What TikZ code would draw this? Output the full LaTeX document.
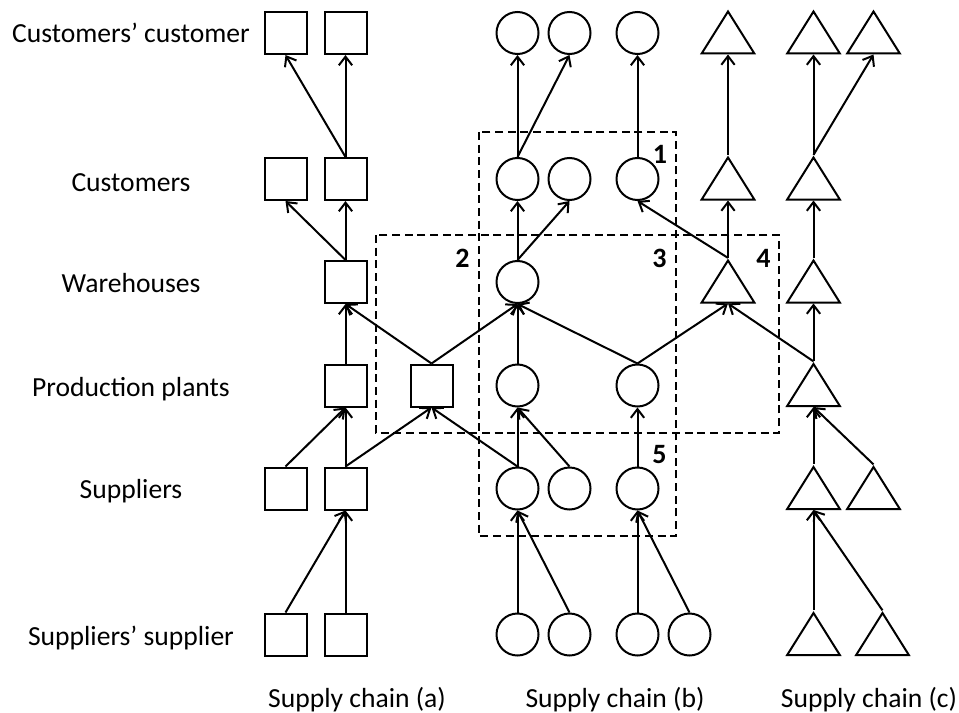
\documentclass[tikz,border=0pt]{standalone}
\usepackage{fontspec}
\setmainfont{Carlito}
\usetikzlibrary{arrows.meta,shapes.geometric}

\tikzset{
  box/.style={draw,line width=1.5pt,minimum size=31.5pt,inner sep=0pt},
  ring/.style={draw,circle,line width=1.5pt,minimum size=31.5pt,inner sep=0pt},
  tri/.style={draw,isosceles triangle,isosceles triangle stretches,
    shape border rotate=90,line width=1.5pt,minimum width=39.5pt,
    minimum height=31.5pt,inner sep=0pt,anchor=lower side},
  flow/.style={line width=1.5pt,-{Straight Barb[length=6.5pt,width=10pt]}},
  zone/.style={line width=1.5pt,dash pattern=on 6pt off 3.5pt},
  rowlab/.style={anchor=base,font=\fontsize{20.7}{24}\selectfont},
  zonelab/.style={anchor=base,font=\fontsize{21}{24}\selectfont\bfseries},
}

\begin{document}
\begin{tikzpicture}[x=0.75pt,y=-0.75pt]
  \useasboundingbox (0,0) rectangle (959,713);

  %%%%%%%%%%%%%%%%%%%%%%%%%%%%%%%%%%%%%%%%%%%%%%%%%%%%%%%%%%%%%%%%%%%%%%%%%%%
  %%%%  Tiers
  \node[rowlab] (lab-cc) at (131,43) {Customers’ customer};
  \node[rowlab] (lab-cu) at (131,191.5) {Customers};
  \node[rowlab] (lab-wh) at (131,292.5) {Warehouses};
  \node[rowlab] (lab-pp) at (131,396.5) {Production plants};
  \node[rowlab] (lab-su) at (131,498) {Suppliers};
  \node[rowlab] (lab-ss) at (131,645) {Suppliers’ supplier};

  \node[rowlab] (cap-a) at (357,707) {Supply chain (a)};
  \node[rowlab] (cap-b) at (615,707) {Supply chain (b)};
  \node[rowlab] (cap-c) at (869,707) {Supply chain (c)};

  %%%%%%%%%%%%%%%%%%%%%%%%%%%%%%%%%%%%%%%%%%%%%%%%%%%%%%%%%%%%%%%%%%%%%%%%%%%
  %%%%  Squares
  \foreach \n/\x/\y in {cc-a1/285.5/33,cc-a2/345.5/33,cu-a1/285.5/179,
    cu-a2/345.5/179,wh-a/345.5/282,pp-a1/345.5/385.5,pp-a2/431.5/385.5,
    su-a1/285.5/488.5,su-a2/345.5/488.5,ss-a1/285.5/634.5,ss-a2/345.5/634.5}
   {\node[box] (\n) at (\x,\y) {};}

  %%%%%%%%%%%%%%%%%%%%%%%%%%%%%%%%%%%%%%%%%%%%%%%%%%%%%%%%%%%%%%%%%%%%%%%%%%%
  %%%%  Circles
  \foreach \n/\x/\y in {cc-b1/517.5/33,cc-b2/569.5/33,cc-b3/637.5/33,
    cu-b1/517.5/179,cu-b2/569.5/179,cu-b3/637.5/179,wh-b/517.5/282,
    pp-b1/517.5/385.5,pp-b2/637.5/385.5,
    su-b1/517.5/488.5,su-b2/569.5/488.5,su-b3/637.5/488.5,
    ss-b1/517.5/634.5,ss-b2/569.5/634.5,ss-b3/637.5/634.5,ss-b4/689.5/634.5}
   {\node[ring] (\n) at (\x,\y) {};}

  %%%%%%%%%%%%%%%%%%%%%%%%%%%%%%%%%%%%%%%%%%%%%%%%%%%%%%%%%%%%%%%%%%%%%%%%%%%
  %%%%  Triangles (base line given)
  \foreach \n/\x/\y in {cc-c0/728/54.5,cu-c0/728/200.5,wh-c0/728/303.5,
    cc-c1/813.5/54.5,cc-c2/873.5/54.5,cu-c/813.5/200.5,wh-c/813.5/303.5,
    pp-c/813.5/407,su-c1/813.5/510,su-c2/873.5/510,
    ss-c1/813.5/656,ss-c2/882.5/656}
   {\node[tri] (\n) at (\x,\y) {};}

  %%%%%%%%%%%%%%%%%%%%%%%%%%%%%%%%%%%%%%%%%%%%%%%%%%%%%%%%%%%%%%%%%%%%%%%%%%%
  %%%%  Flows
  \foreach \s/\t in {ss-a1.north/su-a2.south,ss-a2.north/su-a2.south,
    su-a1.north/pp-a1.south,su-a2.north/pp-a1.south,su-a2.north/pp-a2.south,
    pp-a1.north/wh-a.south,pp-a2.north/wh-a.south,pp-a2.north/wh-b.south,
    wh-a.north/cu-a1.south,wh-a.north/cu-a2.south,
    cu-a2.north/cc-a1.south,cu-a2.north/cc-a2.south}
   {\draw[flow] (\s) -- (\t);}

  \foreach \s/\t in {ss-b1.north/su-b1.south,ss-b2.north/su-b1.south,
    ss-b3.north/su-b3.south,ss-b4.north/su-b3.south,
    su-b1.north/pp-a2.south,su-b1.north/pp-b1.south,su-b2.north/pp-b1.south,
    su-b3.north/pp-b2.south,pp-b1.north/wh-b.south,pp-b2.north/wh-b.south,
    pp-b2.north/wh-c0.lower side,wh-b.north/cu-b1.south,wh-b.north/cu-b2.south,
    cu-b1.north/cc-b1.south,cu-b1.north/cc-b2.south,cu-b3.north/cc-b3.south}
   {\draw[flow] (\s) -- (\t);}

  \foreach \s/\t in {wh-c0.apex/cu-b3.south,wh-c0.apex/cu-c0.lower side,
    cu-c0.apex/cc-c0.lower side,pp-c.apex/wh-c0.lower side,
    ss-c1.apex/su-c1.lower side,ss-c2.apex/su-c1.lower side,
    su-c1.apex/pp-c.lower side,su-c2.apex/pp-c.lower side,
    pp-c.apex/wh-c.lower side,wh-c.apex/cu-c.lower side,
    cu-c.apex/cc-c1.lower side,cu-c.apex/cc-c2.lower side}
   {\draw[flow] (\s) -- (\t);}

  %%%%%%%%%%%%%%%%%%%%%%%%%%%%%%%%%%%%%%%%%%%%%%%%%%%%%%%%%%%%%%%%%%%%%%%%%%%
  %%%%  Regions
  \draw[zone] (479,132) rectangle (676,536);
  \draw[zone] (376,235) rectangle (779,433);

  \node[zonelab] (num1) at (660,163) {1};
  \node[zonelab] (num2) at (462.5,267) {2};
  \node[zonelab] (num3) at (659.5,267) {3};
  \node[zonelab] (num4) at (763.5,267) {4};
  \node[zonelab] (num5) at (659.5,463) {5};
\end{tikzpicture}
\end{document}
